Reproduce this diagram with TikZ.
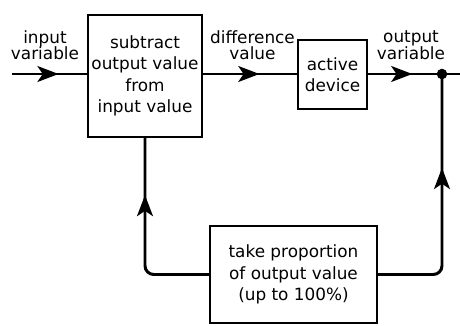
\documentclass[tikz,border=0pt]{standalone}
\usepackage{fontspec}
\setmainfont{DejaVu Sans}
\usetikzlibrary{arrows.meta,decorations.markings}
\tikzset{
  block/.style={draw, line width=1pt, align=center, inner sep=0pt,
    font=\fontsize{9.6}{12.2}\selectfont},
  label/.style={align=center, font=\fontsize{9.6}{9.4}\selectfont},
  signal/.style={line width=1.7pt},
  midarrow/.style={postaction={decorate}, decoration={markings,
    mark=at position #1 with {\arrow{Stealth[length=12pt,width=9pt,inset=3pt]}}}}
}
\begin{document}
\begin{tikzpicture}
    \useasboundingbox (0, 0) rectangle (9.2, 6.52);

    \node[block, minimum width=2.28cm, minimum height=2.44cm] (subtract) at (2.9, 5.0)
        {subtract\\output value\\from\\input value};
    \node[block, minimum width=1.38cm, minimum height=1.38cm] (device) at (6.65, 5.03)
        {active\\device};
    \node[block, minimum width=3.34cm, minimum height=1.94cm] (proportion) at (5.87, 1.03)
        {take proportion\\of output value\\(up to 100\%)};

    \coordinate (in) at (0.24, 5.04);
    \coordinate (out) at (9.2, 5.04);
    \coordinate (tap) at (8.84, 5.04);
    \node[circle, fill, inner sep=0pt, minimum size=6pt] (dot) at (tap) {};

    % forward path
    \draw[signal, midarrow=0.62] (in) -- (in -| subtract.west);
    \draw[signal, midarrow=0.6] (subtract.east |- in) -- (device.west |- in);
    \draw[signal, midarrow=0.6] (device.east |- in) -- (tap);
    \draw[signal] (tap) -- (out);

    % feedback path
    \draw[signal, rounded corners=5pt, midarrow=0.64] (proportion.east) -| (tap);
    \draw[signal, rounded corners=5pt, midarrow=0.71] (proportion.west) -| (subtract.south);

    \node[label] (inlabel) at (0.9, 5.62) {input\\variable};
    \node[label] (difflabel) at (5.05, 5.62) {difference\\value};
    \node[label] (outlabel) at (8.22, 5.62) {output\\variable};
\end{tikzpicture}
\end{document}
